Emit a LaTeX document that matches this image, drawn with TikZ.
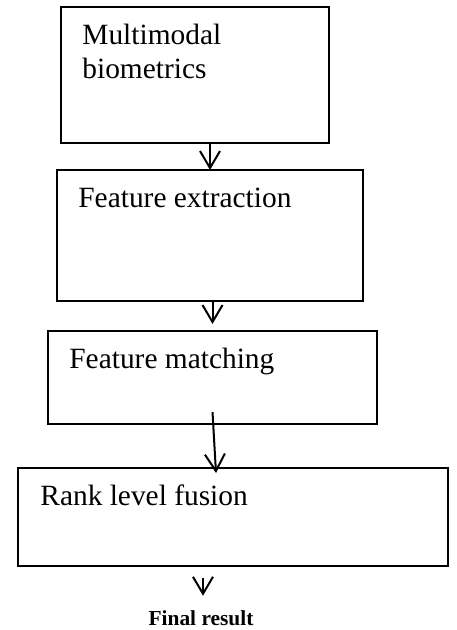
\documentclass[tikz,border=0pt]{standalone}
\usepackage{fontspec}
\setmainfont{Liberation Serif}
\usetikzlibrary{arrows.meta, positioning}
\tikzset{
    stage/.style={rectangle, draw=black, line width=1pt, outer sep=0pt, inner sep=0pt},
    stagetext/.style={inner sep=0pt, align=left, font=\fontsize{14.7}{17}\selectfont},
    flow/.style={-{Straight Barb[length=8.5pt, width=10pt]}, line width=1pt},
    resulttext/.style={inner sep=2pt, font=\fontsize{10.7}{12}\selectfont\bfseries},
}
\begin{document}
\begin{tikzpicture}[x=0.5pt, y=-0.5pt]
    \useasboundingbox (0,0) rectangle (456,630);
    % boxes
    \node[stage, minimum width=134pt, minimum height=68pt] (mb) at (195,75) {};
    \node[stage, minimum width=153pt, minimum height=65.5pt] (fe) at (210,235.5) {};
    \node[stage, minimum width=164.5pt, minimum height=46.5pt] (fm) at (212.5,377.5) {};
    \node[stage, minimum width=215pt, minimum height=49pt] (rlf) at (233,517) {};
    % labels
    \node[stagetext, anchor=base west] (mbText) at (82,79) {Multimodal\\biometrics};
    \node[stagetext, anchor=base west] (feText) at (78,208) {Feature extraction};
    \node[stagetext, anchor=base west] (fmText) at (69,368) {Feature matching};
    \node[stagetext, anchor=base west] (rlfText) at (40,505) {Rank level fusion};
    \node[resulttext, anchor=base] (res) at (201,625) {Final result};
    % arrows
    \draw[flow] (mb.south -| fe.north) -- (fe.north);
    \draw[flow] (fe.south -| fm.north) -- ([yshift=3.5pt]fm.north);
    \draw[flow] ([yshift=6pt]fm.south) -- ([xshift=-8.5pt, yshift=-2.5pt]rlf.north);
    \draw[flow] ([yshift=-6pt]rlf.south -| 203,0) -- ([yshift=5pt]res.north -| 203,0);
\end{tikzpicture}
\end{document}
